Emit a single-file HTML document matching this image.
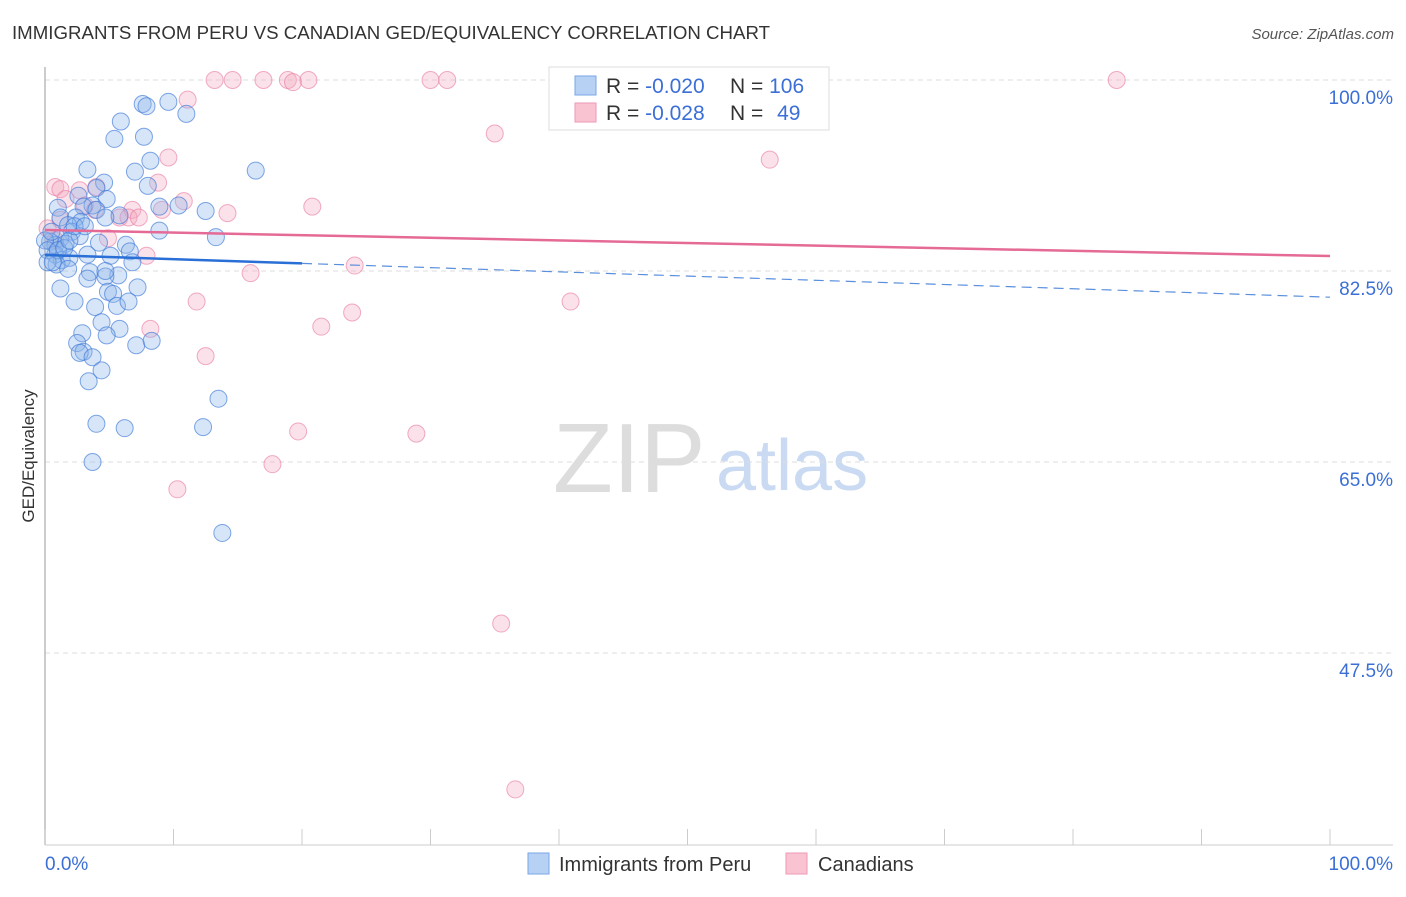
<!DOCTYPE html>
<html><head><meta charset="utf-8"><style>
body{margin:0;background:#fff;font-family:"Liberation Sans",sans-serif;}
svg text{font-family:"Liberation Sans",sans-serif;}
</style></head><body>
<svg width="1406" height="892" viewBox="0 0 1406 892" xmlns="http://www.w3.org/2000/svg">
<text x="12" y="39" font-size="18.6" fill="#333" textLength="758" lengthAdjust="spacingAndGlyphs">IMMIGRANTS FROM PERU VS CANADIAN GED/EQUIVALENCY CORRELATION CHART</text>
<text x="1394" y="39" font-size="15" fill="#555" font-style="italic" text-anchor="end">Source: ZipAtlas.com</text>
<g>
<text x="553" y="492" font-size="98" fill="#ddd" font-family="Liberation Serif,serif">ZIP</text>
<text x="716" y="490" font-size="72" fill="#c9daf2">atlas</text>
</g>
<g id="grid"></g>
<line x1="45" y1="67" x2="45" y2="845" stroke="#bbb" stroke-width="1.5"/>
<line x1="45" y1="845" x2="1393" y2="845" stroke="#ccc" stroke-width="1"/>
<g id="xticks"></g>
<text transform="translate(34,456) rotate(-90)" font-size="17" fill="#333" text-anchor="middle">GED/Equivalency</text>
<text x="45" y="870" font-size="19" fill="#3b6fd6">0.0%</text>
<text x="1393" y="870" font-size="19" fill="#3b6fd6" text-anchor="end">100.0%</text>
<g id="pts"></g>
<g id="trends"></g>
<g>
<rect x="549" y="67" width="280" height="63" fill="#fff" stroke="#ddd"/>
<rect x="575" y="76" width="21" height="19" fill="#b7d1f4" stroke="#7aa6e6"/>
<rect x="575" y="103" width="21" height="19" fill="#f9c3d2" stroke="#ee9ab4"/>
<text x="606" y="93" font-size="21" fill="#333">R = <tspan fill="#3b6fd6">-0.020</tspan></text>
<text x="730" y="93" font-size="21" fill="#333">N = <tspan fill="#3b6fd6">106</tspan></text>
<text x="606" y="120" font-size="21" fill="#333">R = <tspan fill="#3b6fd6">-0.028</tspan></text>
<text x="730" y="120" font-size="21" fill="#333">N = <tspan fill="#3b6fd6" dx="8">49</tspan></text>
</g>
<g>
<rect x="528" y="853" width="21" height="21" fill="#b7d1f4" stroke="#7aa6e6"/>
<text x="559" y="871" font-size="20" fill="#333">Immigrants from Peru</text>
</g>
<g>
<rect x="786" y="853" width="21" height="21" fill="#f9c3d2" stroke="#ee9ab4"/>
<text x="818" y="871" font-size="20" fill="#333">Canadians</text>
</g>
</svg>
<script>
const yTicks=[100,82.5,65,47.5];
const yTickLabels=["100.0%","82.5%","65.0%","47.5%"];
const xTicks=[0,10,20,30,40,50,60,70,80,90,100];
const blueX=[7.6,7.9,9.6,11.0,5.9,5.4,7.7,8.2,7.0,3.3,16.4,8.0,4.6,4.0,2.6,4.8,3.7,3.0,1.0,1.2,2.4,2.8,4.0,5.8,4.7,8.9,10.4,12.5,8.9,13.3,1.8,2.1,1.2,0.4,0.8,1.6,2.7,4.2,6.3,6.6,5.1,0.8,1.3,1.9,3.3,6.8,0.9,1.8,3.5,5.7,4.7,4.7,3.3,1.2,4.9,5.3,7.2,2.3,3.9,5.6,6.5,4.4,2.9,5.8,4.8,2.5,7.1,8.3,3.0,2.7,3.7,4.4,3.4,13.5,4.0,6.2,12.3,3.7,13.8,0.0,0.2,0.5,1.0,1.5,1.9,2.3,3.1,0.2,0.6];
const blueY=[97.8,97.6,98.0,96.9,96.2,94.6,94.8,92.6,91.6,91.8,91.7,90.3,90.6,90.1,89.4,89.1,88.5,88.4,88.3,87.4,87.4,87.0,88.1,87.6,87.4,88.4,88.5,88.0,86.2,85.6,86.7,86.1,85.5,85.2,84.9,85.0,85.7,85.1,84.9,84.3,83.9,84.0,83.5,83.7,84.0,83.3,83.1,82.7,82.4,82.1,82.0,82.5,81.8,80.9,80.6,80.4,81.0,79.7,79.2,79.3,79.7,77.8,76.8,77.2,76.6,75.9,75.7,76.1,75.1,75.0,74.6,73.4,72.4,70.8,68.5,68.1,68.2,65.0,58.5,85.3,84.4,86.1,84.4,84.6,85.3,86.6,86.6,83.3,83.3];
const pinkX=[13.2,14.6,17.0,18.9,19.3,20.5,30.0,31.3,83.4,11.1,35.0,56.4,9.6,8.8,0.8,1.2,2.7,4.0,1.6,3.1,10.8,20.8,14.2,9.1,6.8,5.8,6.5,7.3,3.9,4.9,0.2,0.8,7.9,16.0,24.1,40.9,11.8,21.5,23.9,8.2,12.5,19.7,28.9,17.7,10.3,35.5,36.6,1.2,47.5];
const pinkY=[100,100,100,100,99.8,100,100,100,100,98.2,95.1,92.7,92.9,90.6,90.2,90.0,89.9,90.2,89.1,88.5,88.9,88.4,87.8,88.1,88.1,87.4,87.4,87.4,88.1,85.5,86.4,85.3,83.9,82.3,83.0,79.7,79.7,77.4,78.7,77.2,74.7,67.8,67.6,64.8,62.5,50.2,35.0,87.2,100];
const blueTrend=[83.97,80.1];
const pinkTrend=[86.26,83.87];
const NS="http://www.w3.org/2000/svg";
const sx=v=>45+v*12.85;
const sy=v=>80+(100-v)*191/17.5;
function mk(tag,attrs,parent){const e=document.createElementNS(NS,tag);for(const k in attrs)e.setAttribute(k,attrs[k]);parent.appendChild(e);return e;}
const grid=document.getElementById('grid');
yTicks.forEach((t,i)=>{
 const l=mk('line',{x1:45,x2:1393,y1:sy(t),y2:sy(t),stroke:'#ddd','stroke-dasharray':'5,4'},grid);
 
 
 const tx=mk('text',{x:1393,y:sy(t)+24,'font-size':19,fill:'#3b6fd6','text-anchor':'end'},grid);
 tx.textContent=yTickLabels[i];
 
 
});
const xt=document.getElementById('xticks');
xTicks.forEach(t=>{
 const l=mk('line',{x1:sx(t),x2:sx(t),y1:829,y2:845,stroke:'#ccc'},xt);
 
 
});
const pts=document.getElementById('pts');
pinkX.forEach((x,i)=>{
 const c=mk('circle',{cx:sx(x),cy:sy(pinkY[i]),r:8.5,fill:'rgba(244,170,192,0.35)',stroke:'rgba(232,120,160,0.6)','stroke-width':1},pts);
 
 
});
blueX.forEach((x,i)=>{
 const c=mk('circle',{cx:sx(x),cy:sy(blueY[i]),r:8.5,fill:'rgba(140,180,235,0.35)',stroke:'rgba(60,120,215,0.65)','stroke-width':1},pts);
 
 
});
const tr=document.getElementById('trends');
const by=x=>blueTrend[0]+(blueTrend[1]-blueTrend[0])*x/100;
let l1=mk('line',{x1:sx(0),y1:sy(by(0)),x2:sx(20),y2:sy(by(20)),stroke:'#2a6fd6','stroke-width':2.5},tr);


let l2=mk('line',{x1:sx(20),y1:sy(by(20)),x2:sx(100),y2:sy(by(100)),stroke:'#5a8fdc','stroke-width':1.2,'stroke-dasharray':'10,6'},tr);


let l3=mk('line',{x1:sx(0),y1:sy(pinkTrend[0]),x2:sx(100),y2:sy(pinkTrend[1]),stroke:'#e56a95','stroke-width':2.5},tr);


</script>
</body></html>
